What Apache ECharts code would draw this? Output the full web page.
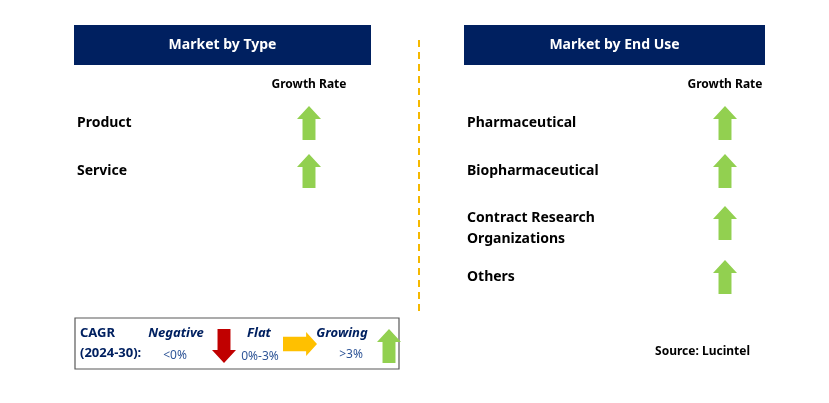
<!DOCTYPE html>
<html><head><meta charset="utf-8">
<script src="https://cdn.jsdelivr.net/npm/echarts@6/dist/echarts.min.js"></script>
<style>html,body{margin:0;padding:0;background:#fff}#c{width:829px;height:403px}</style>
</head><body><div id="c"></div>
<script>
const typeTitle = 'Market by Type';
const endUseTitle = 'Market by End Use';
const typeCategories = ['Product', 'Service'];
const typeGrowth = ['up', 'up'];
const endUseCategories = ['Pharmaceutical', 'Biopharmaceutical', 'Contract Research\nOrganizations', 'Others'];
const endUseGrowth = ['up', 'up', 'up', 'up'];
const typeRowsY = [123, 171];
const endUseRowsY = [123, 171, 229, 277];

const NAVY = '#002060', GREEN = '#92D050', RED = '#C00000', YEL = '#FFC000';
const F = 'Noto Sans, Liberation Sans, sans-serif';
function upArrow(cx, cy, w, h, color) {
  const hw = w / 2, sw = w * 0.27, hh = h * 0.38, t = cy - h / 2, b = cy + h / 2;
  return { type: 'polygon', shape: { points: [[cx, t], [cx + hw, t + hh], [cx + sw, t + hh], [cx + sw, b], [cx - sw, b], [cx - sw, t + hh], [cx - hw, t + hh]] }, style: { fill: color } };
}
function downArrow(cx, cy, w, h, color) {
  const hw = w / 2, sw = w * 0.27, hh = h * 0.38, t = cy - h / 2, b = cy + h / 2;
  return { type: 'polygon', shape: { points: [[cx, b], [cx + hw, b - hh], [cx + sw, b - hh], [cx + sw, t], [cx - sw, t], [cx - sw, b - hh], [cx - hw, b - hh]] }, style: { fill: color } };
}
function rightArrow(cx, cy, w, h, color) {
  const hh = h / 2, sh = h * 0.3, hw = w * 0.32, l = cx - w / 2, r = cx + w / 2;
  return { type: 'polygon', shape: { points: [[r, cy], [r - hw, cy - hh], [r - hw, cy - sh], [l, cy - sh], [l, cy + sh], [r - hw, cy + sh], [r - hw, cy + hh]] }, style: { fill: color } };
}
function txt(x, y, s, o) {
  return { type: 'text', x: x, y: y, style: Object.assign({ text: s, fontFamily: F, fontSize: 14, fontWeight: 'bold', fill: '#000', verticalAlign: 'middle' }, o || {}) };
}
const g = [];
function panel(x0, x1, title, cats, growth, ys, arrowX) {
  g.push({ type: 'rect', shape: { x: x0, y: 25, width: x1 - x0, height: 40 }, style: { fill: NAVY } });
  g.push(txt((x0 + x1) / 2, 45, title, { fill: '#fff', align: 'center', fontSize: 14 }));
  g.push(txt(arrowX, 85, 'Growth Rate', { align: 'center', fontSize: 12 }));
  cats.forEach((c, i) => {
    g.push(txt(x0 + 3, ys[i], c, { lineHeight: 21 }));
    const gy = c.indexOf('\n') >= 0 ? ys[i] - 6 : ys[i];
    g.push(growth[i] === 'up' ? upArrow(arrowX, gy, 24, 34, GREEN) : downArrow(arrowX, gy, 24, 34, RED));
  });
}
panel(74, 371, typeTitle, typeCategories, typeGrowth, typeRowsY, 309);
panel(464, 765, endUseTitle, endUseCategories, endUseGrowth, endUseRowsY, 725);
g.push({ type: 'line', shape: { x1: 419, y1: 40, x2: 419, y2: 312 }, style: { stroke: '#F5B800', lineWidth: 2, lineDash: [7, 5] } });
// legend
g.push({ type: 'rect', shape: { x: 75, y: 318, width: 324, height: 51 }, style: { fill: '#fff', stroke: '#595959', lineWidth: 1.2 } });
g.push(txt(80, 333, 'CAGR', { fill: NAVY, fontSize: 13 }));
g.push(txt(80, 353, '(2024-30):', { fill: NAVY, fontSize: 13 }));
g.push(txt(176, 333, 'Negative', { fill: NAVY, fontSize: 13, fontStyle: 'italic', align: 'center' }));
g.push(txt(175, 356, '<0%', { fill: '#2F5597', fontSize: 12, fontWeight: 'normal', align: 'center' }));
g.push(downArrow(224, 346, 24, 34, RED));
g.push(txt(259, 333, 'Flat', { fill: NAVY, fontSize: 13, fontStyle: 'italic', align: 'center' }));
g.push(txt(260, 357, '0%-3%', { fill: '#2F5597', fontSize: 12, fontWeight: 'normal', align: 'center' }));
g.push(rightArrow(300, 344, 34, 24, YEL));
g.push(txt(342, 333, 'Growing', { fill: NAVY, fontSize: 13, fontStyle: 'italic', align: 'center' }));
g.push(txt(351, 355, '>3%', { fill: '#2F5597', fontSize: 12, fontWeight: 'normal', align: 'center' }));
g.push(upArrow(389, 346, 24, 34, GREEN));
g.push(txt(750, 352, 'Source: Lucintel', { fontSize: 12, align: 'right' }));

const chart = echarts.init(document.getElementById('c'));
chart.setOption({ animation: false, graphic: { elements: g } });
</script></body></html>
